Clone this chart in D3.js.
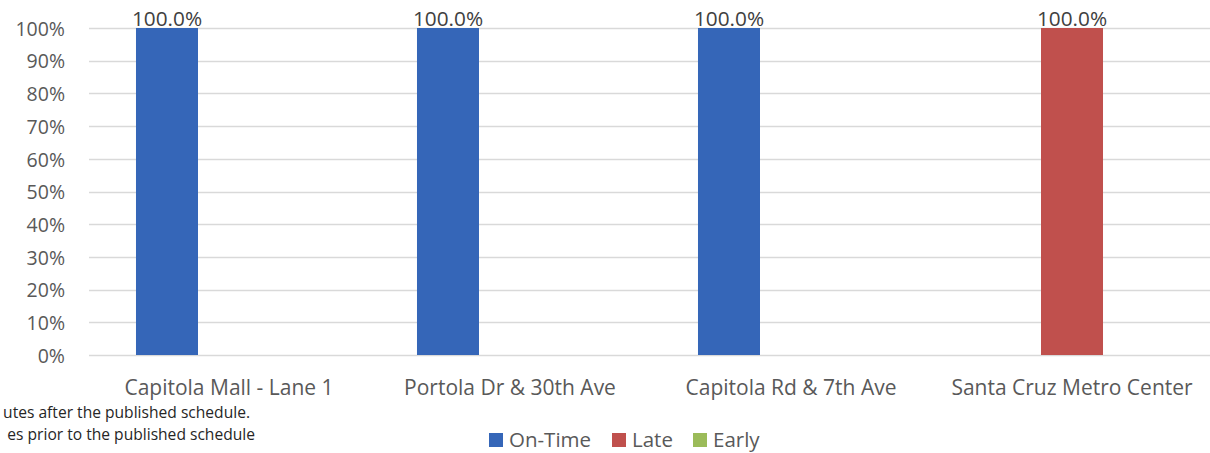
<!DOCTYPE html>
<html>
<head>
<meta charset="utf-8">
<script src="https://cdn.jsdelivr.net/npm/d3@7"></script>
<style>
  body { margin: 0; background: #fff; }
  text { font-family: "Open Sans", "Noto Sans", sans-serif; }
</style>
</head>
<body>
<script>
var categories = ["Capitola Mall - Lane 1", "Portola Dr & 30th Ave", "Capitola Rd & 7th Ave", "Santa Cruz Metro Center"];
var seriesNames = ["On-Time", "Late", "Early"];
var onTime = [1.0, 1.0, 1.0, 0];
var late = [0, 0, 0, 1.0];
var early = [0, 0, 0, 0];
var yTicks = [0, 0.1, 0.2, 0.3, 0.4, 0.5, 0.6, 0.7, 0.8, 0.9, 1.0];
var footnotes = ["utes after the published schedule.", "es prior to the published schedule"];

var colors = { "On-Time": "#3566b8", "Late": "#c0504d", "Early": "#9bbb59" };

var width = 1210, height = 453;
var svg = d3.select("body").append("svg")
  .attr("width", width)
  .attr("height", height);

var y = d3.scaleLinear().domain([0, 1]).range([355, 28]);

var x0 = d3.scaleBand()
  .domain(categories)
  .range([88.5, 1212.5])
  .paddingInner(0.338)
  .paddingOuter(0.169);

var x1 = d3.scaleBand()
  .domain(seriesNames)
  .range([0, x0.bandwidth()]);

// gridlines
svg.append("g")
  .selectAll("line")
  .data(yTicks)
  .enter().append("line")
  .attr("x1", 89)
  .attr("x2", width)
  .attr("y1", function(d) { return Math.round(y(d)) + 0.5; })
  .attr("y2", function(d) { return Math.round(y(d)) + 0.5; })
  .attr("stroke", "#d9d9d9")
  .attr("stroke-width", 1.5);

// y axis labels
var yaxis = d3.axisLeft(y)
  .tickValues(yTicks)
  .tickFormat(d3.format(".0%"))
  .tickSize(0)
  .tickPadding(0);

var yg = svg.append("g")
  .attr("transform", "translate(65,1)")
  .call(yaxis);
yg.select(".domain").remove();
yg.selectAll("text")
  .attr("fill", "#595959")
  .style("font-size", "19.5px");

// bars
var rows = categories.map(function(c, i) {
  return { cat: c, values: [
    { name: "On-Time", v: onTime[i] },
    { name: "Late", v: late[i] },
    { name: "Early", v: early[i] }
  ] };
});

var groups = svg.selectAll(".grp")
  .data(rows)
  .enter().append("g")
  .attr("class", "grp")
  .attr("transform", function(d) { return "translate(" + x0(d.cat) + ",0)"; });

groups.selectAll("rect")
  .data(function(d) { return d.values.filter(function(s) { return s.v > 0; }); })
  .enter().append("rect")
  .attr("x", function(d) { return x1(d.name); })
  .attr("width", x1.bandwidth())
  .attr("y", function(d) { return y(d.v); })
  .attr("height", function(d) { return y(0) - y(d.v); })
  .attr("fill", function(d) { return colors[d.name]; });

groups.selectAll(".lbl")
  .data(function(d) { return d.values.filter(function(s) { return s.v > 0; }); })
  .enter().append("text")
  .attr("class", "lbl")
  .attr("x", function(d) { return x1(d.name) + x1.bandwidth() / 2; })
  .attr("y", function(d) { return y(d.v) - 2; })
  .attr("text-anchor", "middle")
  .attr("fill", "#404040")
  .style("font-size", "20.8px")
  .text(function(d) { return d3.format(".1%")(d.v); });

// category labels
var xaxis = d3.axisBottom(x0).tickSize(0).tickPadding(0);
var xg = svg.append("g")
  .attr("transform", "translate(0,395)")
  .call(xaxis);
xg.select(".domain").remove();
xg.selectAll("text")
  .attr("dy", "0")
  .attr("y", 0)
  .attr("fill", "#595959")
  .style("font-size", "21px");

// footnotes (cut off at the left edge)
svg.selectAll(".foot")
  .data(footnotes)
  .enter().append("text")
  .attr("class", "foot")
  .attr("x", function(d, i) { return i === 0 ? 250 : 255; })
  .attr("y", function(d, i) { return 418 + i * 22; })
  .attr("text-anchor", "end")
  .attr("fill", "#262626")
  .style("font-size", "15.6px")
  .text(function(d) { return d; });

// legend
var legendX = [489, 612, 693];
var leg = svg.selectAll(".leg")
  .data(seriesNames)
  .enter().append("g")
  .attr("class", "leg")
  .attr("transform", function(d, i) { return "translate(" + legendX[i] + ",433)"; });
leg.append("rect")
  .attr("width", 14)
  .attr("height", 14)
  .attr("fill", function(d) { return colors[d]; });
leg.append("text")
  .attr("x", 20)
  .attr("y", 14)
  .attr("fill", "#595959")
  .style("font-size", "20.5px")
  .text(function(d) { return d; });
</script>
</body>
</html>
